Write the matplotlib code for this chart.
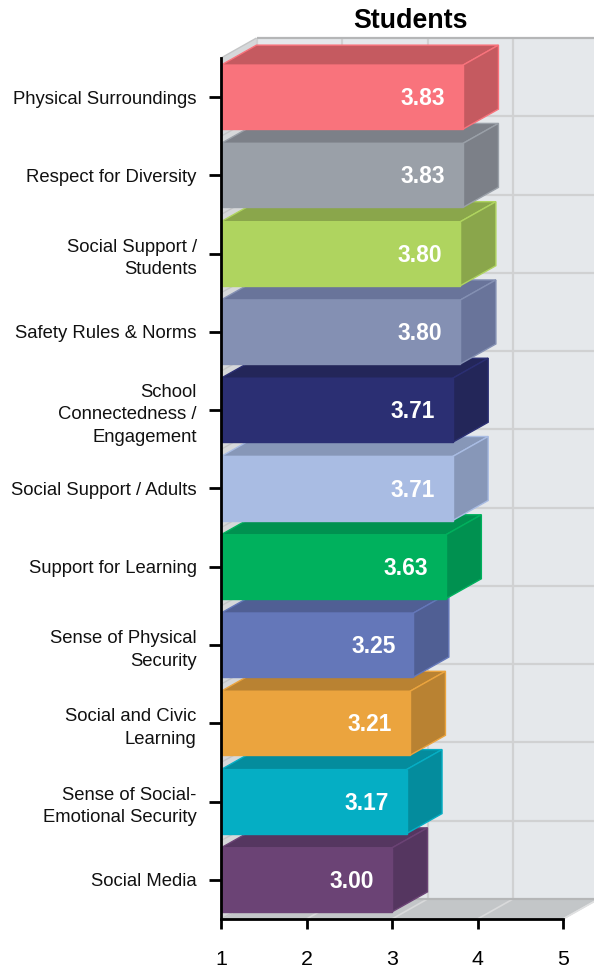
import matplotlib
matplotlib.use("Agg")
import matplotlib.pyplot as plt
from matplotlib.patches import Polygon

plt.rcParams['font.family'] = ['Liberation Sans', 'DejaVu Sans']

categories = ["Physical Surroundings", "Respect for Diversity", "Social Support /\nStudents",
              "Safety Rules & Norms", "School\nConnectedness /\nEngagement", "Social Support / Adults",
              "Support for Learning", "Sense of Physical\nSecurity", "Social and Civic\nLearning",
              "Sense of Social-\nEmotional Security", "Social Media"]
values = [3.83, 3.83, 3.80, 3.80, 3.71, 3.71, 3.63, 3.25, 3.21, 3.17, 3.00]
front_colors = ["#f9737c", "#9aa0a8", "#afd45f", "#8490b3", "#2b2f73", "#a9bce3",
                "#00b15d", "#6477b9", "#eba43e", "#05aec4", "#6b4375"]
side_colors = ["#c55a60", "#7c8088", "#8aa64b", "#69749a", "#232659", "#8797b8",
               "#009150", "#505f94", "#b98232", "#048c9d", "#553660"]
x_ticks = [1, 2, 3, 4, 5]

W, H = 594, 971
fig = plt.figure(figsize=(W / 100, H / 100), dpi=100, facecolor="white")
L, R, T, B = 221.0, 563.0, 58.0, 919.0
ax = fig.add_axes([L / W, 1 - B / H, (R - L) / W, (B - T) / H])
ax.set_xlim(1, 5)
ax.set_ylim(len(values) - 0.5, -0.5)
ax.patch.set_visible(False)

# depth of the 3D box, data units
dx = 35.5 / 85.5
dy = 20.0 / 78.27
bar_h = 64.0 / 78.27
y0, y1 = -0.5, len(values) - 0.5
x0, x1 = x_ticks[0], x_ticks[-1]
grid = "#d0d1d2"


def poly(pts, fc, ec="none", lw=0, z=1):
    ax.add_patch(Polygon(pts, closed=True, facecolor=fc, edgecolor=ec, linewidth=lw,
                         zorder=z, clip_on=False))


def seg(xs, ys, c=grid, lw=1.6, z=1.5):
    ax.plot(xs, ys, color=c, lw=lw, zorder=z, clip_on=False, solid_capstyle="butt")


# walls and floor
poly([(x0 + dx, y0 - dy), (x1 + dx, y0 - dy), (x1 + dx, y1 - dy), (x0 + dx, y1 - dy)], "#e5e8eb")
poly([(x0, y0), (x0 + dx, y0 - dy), (x0 + dx, y1 - dy), (x0, y1)], "#d6d8da")
poly([(x0, y1), (x1, y1), (x1 + dx, y1 - dy), (x0 + dx, y1 - dy)], "#c3c6c8")

for t in x_ticks:
    seg([t + dx, t + dx], [y0 - dy, y1 - dy])
    seg([t, t + dx], [y1, y1 - dy], c="#d9dadb", lw=1.2)
for k in range(len(values) + 1):
    yk = k - 0.5
    seg([x0 + dx, x1 + dx], [yk - dy, yk - dy], c="#b5b6b7" if k in (0, len(values)) else grid)
    seg([x0, x0 + dx], [yk, yk - dy], c="#c4c5c6", lw=1.0)
seg([x1, x1 + dx], [y1, y1 - dy], c="#e0e1e2", lw=1.0)

# bars, drawn bottom first so upper bars overlap
n = len(values)
for i in range(n - 1, -1, -1):
    v = values[i]
    z = 3 + (n - i) * 0.1
    top, bot = i - bar_h / 2, i + bar_h / 2
    ax.barh(i, v - x0, left=x0, height=bar_h, color=front_colors[i], edgecolor=front_colors[i],
            linewidth=1.0, zorder=z + 0.02, clip_on=False)
    poly([(x0, top), (v, top), (v + dx, top - dy), (x0 + dx, top - dy)],
         side_colors[i], front_colors[i], 1.0, z)
    poly([(v, top), (v + dx, top - dy), (v + dx, bot - dy), (v, bot)],
         side_colors[i], front_colors[i], 1.0, z + 0.01)
    ax.text(v - 0.21, i + 0.02, f"{v:.2f}", ha="right", va="center", color="white",
            fontsize=16.4, fontweight="bold", zorder=z + 0.03)

# axes
for s in ("top", "right"):
    ax.spines[s].set_visible(False)
for s in ("left", "bottom"):
    ax.spines[s].set_linewidth(2.0)
    ax.spines[s].set_color("black")
    ax.spines[s].set_zorder(10)
ax.set_xticks(x_ticks)
ax.set_xticklabels([str(t) for t in x_ticks], fontsize=15.4, color="black")
ax.set_yticks(range(n))
ax.set_yticklabels(categories, fontsize=13.3, color="#111111", linespacing=1.42,
                   ha="right", multialignment="right")
ax.tick_params(axis="x", length=7.5, width=2.0, pad=15, color="black")
ax.tick_params(axis="y", length=8.5, width=2.0, pad=9, color="black")
ax.set_axisbelow(False)
ax.set_title("Students", fontsize=19.3, fontweight="bold", x=(410 - L) / (R - L), y=1.0, pad=21.5,
             color="black")

fig.savefig("out.png", dpi=100, facecolor="white")
